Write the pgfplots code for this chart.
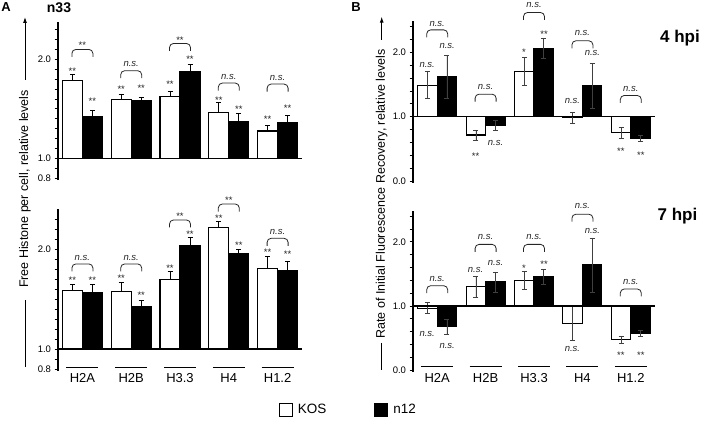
\documentclass[border=0pt]{standalone}
\usepackage{fontspec}
\setmainfont{Liberation Sans}
\usepackage{pgfplots}
\usepackage{pgfplotstable}
\pgfplotsset{compat=1.18}
\usetikzlibrary{arrows.meta}

% values as read (relative levels); error = half-length of error bar
\pgfplotstableread{
x kos kose n12 n12e
0 1.785 0.065 1.417 0.068
1 1.596 0.054 1.580 0.040
2 1.620 0.060 1.880 0.070
3 1.465 0.095 1.367 0.083
4 1.276 0.054 1.357 0.077
}\tabAtop
\pgfplotstableread{
x kos kose n12 n12e
0 1.585 0.065 1.570 0.080
1 1.580 0.090 1.425 0.065
2 1.695 0.085 2.036 0.084
3 2.220 0.060 1.953 0.047
4 1.805 0.120 1.785 0.095
}\tabAbot
\pgfplotstableread{
x kos kose n12 n12e
0 1.490 0.210 1.620 0.330
1 0.715 0.080 0.866 0.076
2 1.700 0.220 2.060 0.160
3 0.980 0.090 1.480 0.350
4 0.750 0.085 0.660 0.050
}\tabBtop
\pgfplotstableread{
x kos kose n12 n12e
0 0.965 0.085 0.680 0.120
1 1.300 0.157 1.374 0.156
2 1.400 0.140 1.456 0.114
3 0.730 0.260 1.640 0.420
4 0.480 0.055 0.575 0.040
}\tabBbot

\tikzset{
  brk/.style={line width=0.8pt, rounded corners=4pt, black!85},
  sig/.style={font=\fontsize{9.5}{10}\selectfont, text=black!85, inner sep=0pt, anchor=mid},
}
\newcommand{\brkline}[2]{\draw[brk] ([xshift=-10.5pt,yshift=-7.5pt]axis cs:#1,#2) -- ([xshift=-10.5pt]axis cs:#1,#2) -- ([xshift=10.5pt]axis cs:#1,#2) -- ([xshift=10.5pt,yshift=-7.5pt]axis cs:#1,#2);}
\newcommand{\brkn}[3]{\brkline{#1}{#2}\node[sig] at (axis cs:#1,#3) {\textit{n.s.}};}
\newcommand{\brks}[4]{\brkline{#1}{#2}\node[sig,yshift=-2.8pt] at (axis cs:#1,#3) {#4};}
\newcommand{\lbn}[3]{\node[sig,xshift=#2] at (axis cs:#1,#3) {\textit{n.s.}};}
\newcommand{\lbs}[4]{\node[sig,xshift=#2,yshift=-2.8pt] at (axis cs:#1,#3) {#4};}
\newcommand{\cat}[4]{\draw[line width=0.8pt] ([xshift=-16pt]axis cs:#1,#2) -- ([xshift=16pt]axis cs:#1,#2); \node[font=\fontsize{13}{15}\selectfont, inner sep=0pt] at (axis cs:#1,#3) {#4};}

\pgfplotsset{
  panel/.style={scale only axis, ybar=0pt, xmin=-0.5, xmax=4.5,
    axis x line=none, axis y line*=left, y axis line style={-, line width=1.1pt},
    tick align=outside, ytick pos=left, major tick length=3.5pt, minor tick length=3.5pt,
    tick style={black, line width=0.8pt},
    yticklabel style={font=\fontsize{9.5}{11}\selectfont},
    /pgf/number format/assume math mode=true, clip=false},
  panelA/.style={panel, width=244pt, bar width=20pt, ymin=-0.22,
    ytick={-0.2,0,1}, yticklabels={0.8,1.0,2.0},
    minor ytick={-0.1,0.1,0.2,0.3,0.4,0.5,0.6,0.7,0.8,0.9,1.1,1.2,1.3}},
  panelB/.style={panel, width=242pt, bar width=19.5pt, ymin=-1.03, ymax=1.48,
    ytick={-1,0,1}, yticklabels={0.0,1.0,2.0},
    minor ytick={-0.8,-0.6,-0.4,-0.2,0.2,0.4,0.6,0.8,1.2,1.4}},
  kosA/.style={draw=black, fill=white, line width=1.1pt,
    error bars/.cd, y dir=plus, y explicit,
    error bar style={line width=0.8pt, black},
    error mark options={rotate=90, mark size=2.5pt, line width=0.8pt, black}},
  n12A/.style={draw=black, fill=black, line width=1.1pt,
    error bars/.cd, y dir=plus, y explicit,
    error bar style={line width=0.8pt, black},
    error mark options={rotate=90, mark size=2.5pt, line width=0.8pt, black}},
  kosB/.style={draw=black, fill=white, line width=1.1pt,
    error bars/.cd, y dir=both, y explicit,
    error bar style={line width=0.6pt, black!75},
    error mark options={rotate=90, mark size=2.5pt, line width=0.6pt, black!75}},
  n12B/.style={draw=black, fill=black, line width=1.1pt,
    error bars/.cd, y dir=both, y explicit,
    error bar style={line width=0.6pt, black!75},
    error mark options={rotate=90, mark size=2.5pt, line width=0.6pt, black!75}},
}

\begin{document}
\begin{tikzpicture}
\useasboundingbox (0,0) rectangle (703pt,425pt);

% ---------------- Panel A, top (n33) ----------------
\begin{axis}[panelA, at={(58pt,244.9pt)}, anchor=south west, height=158.4pt, ymax=1.38]
\addplot[kosA] table[x=x, y expr=\thisrow{kos}-1, y error=kose] {\tabAtop};
\addplot[n12A] table[x=x, y expr=\thisrow{n12}-1, y error=n12e] {\tabAtop};
\draw[line width=1.6pt] (axis cs:-0.5,0) -- (axis cs:4.5,0);
\brks{0}{1.10}{1.16}{**}
\brkn{1}{0.885}{0.95}
\brks{2}{1.16}{1.21}{**}
\brkn{3}{0.76}{0.82}
\brkn{4}{0.75}{0.81}
\lbs{0}{-10pt}{0.902}{**} \lbs{0}{10pt}{0.60}{**}
\lbs{1}{-10pt}{0.717}{**} \lbs{1}{10pt}{0.73}{**}
\lbs{2}{-10pt}{0.774}{**} \lbs{2}{10pt}{1.02}{**}
\lbs{3}{-10pt}{0.605}{**} \lbs{3}{10pt}{0.52}{**}
\lbs{4}{-10pt}{0.42}{**}  \lbs{4}{10pt}{0.528}{**}
\end{axis}

% ---------------- Panel A, bottom ----------------
\begin{axis}[panelA, at={(58pt,54.1pt)}, anchor=south west, height=161.5pt, ymax=1.40,
  legend style={at={(1.19,-0.242)}, anchor=center, draw=none, fill=none,
    legend columns=2, font=\fontsize{13.5}{15}\selectfont,
    /tikz/every odd column/.append style={column sep=3pt},
    /tikz/every even column/.append style={column sep=46pt}},
  legend image code/.code={\draw[#1, line width=0.9pt] (0pt,-6.5pt) rectangle (13pt,6.5pt);}]
\addplot[kosA] table[x=x, y expr=\thisrow{kos}-1, y error=kose] {\tabAbot};
\addlegendentry{KOS}
\addplot[n12A] table[x=x, y expr=\thisrow{n12}-1, y error=n12e] {\tabAbot};
\addlegendentry{n12}
\draw[line width=1.6pt] (axis cs:-0.5,0) -- (axis cs:4.5,0);
\brkn{0}{0.853}{0.91}
\brkn{1}{0.853}{0.91}
\brks{2}{1.294}{1.351}{**}
\brks{3}{1.454}{1.51}{**}
\brkn{4}{1.11}{1.17}
\lbs{0}{-10pt}{0.709}{**} \lbs{0}{10pt}{0.709}{**}
\lbs{1}{-10pt}{0.732}{**} \lbs{1}{10pt}{0.565}{**}
\lbs{2}{-10pt}{0.83}{**}  \lbs{2}{10pt}{1.17}{**}
\lbs{3}{-10pt}{1.334}{**} \lbs{3}{10pt}{1.06}{**}
\lbs{4}{-10pt}{0.993}{**} \lbs{4}{10pt}{0.976}{**}
\cat{0}{-0.184}{-0.291}{H2A}
\cat{1}{-0.184}{-0.291}{H2B}
\cat{2}{-0.184}{-0.291}{H3.3}
\cat{3}{-0.184}{-0.291}{H4}
\cat{4}{-0.184}{-0.291}{H1.2}
\end{axis}

% ---------------- Panel B, top (4 hpi) ----------------
\begin{axis}[panelB, at={(413pt,242.1pt)}, anchor=south west, height=161.4pt]
\addplot[kosB] table[x=x, y expr=\thisrow{kos}-1, y error=kose] {\tabBtop};
\addplot[n12B] table[x=x, y expr=\thisrow{n12}-1, y error=n12e] {\tabBtop};
\draw[line width=1.6pt] (axis cs:-0.5,0) -- (axis cs:4.5,0);
\brkn{0}{1.35}{1.45}
\brkn{1}{0.35}{0.46}
\brkn{2}{1.62}{1.74}
\brkn{3}{1.18}{1.30}
\brkn{4}{0.33}{0.43}
\lbn{0}{-10pt}{0.80}      \lbn{0}{10pt}{1.10}
\lbs{1}{-10pt}{-0.58}{**} \lbn{1}{10pt}{-0.40}
\lbs{2}{-10pt}{1.03}{*}   \lbs{2}{10pt}{1.32}{**}
\lbn{3}{-10pt}{0.25}      \lbn{3}{10pt}{1.00}
\lbs{4}{-10pt}{-0.51}{**} \lbs{4}{10pt}{-0.56}{**}
\end{axis}

% ---------------- Panel B, bottom (7 hpi) ----------------
\begin{axis}[panelB, at={(413pt,52.9pt)}, anchor=south west, height=161.1pt]
\addplot[kosB] table[x=x, y expr=\thisrow{kos}-1, y error=kose] {\tabBbot};
\addplot[n12B] table[x=x, y expr=\thisrow{n12}-1, y error=n12e] {\tabBbot};
\draw[line width=1.6pt] (axis cs:-0.5,0) -- (axis cs:4.5,0);
\brkn{0}{0.316}{0.42}
\brkn{1}{0.96}{1.08}
\brkn{2}{0.96}{1.08}
\brkn{3}{1.43}{1.56}
\brkn{4}{0.265}{0.38}
\lbn{0}{-10pt}{-0.436}     \lbn{0}{10pt}{-0.623}
\lbn{1}{-10pt}{0.57}       \lbn{1}{10pt}{0.674}
\lbs{2}{-10pt}{0.623}{*}   \lbs{2}{10pt}{0.69}{**}
\lbn{3}{-10pt}{-0.67}      \lbn{3}{10pt}{1.168}
\lbs{4}{-10pt}{-0.737}{**} \lbs{4}{10pt}{-0.737}{**}
\cat{0}{-0.945}{-1.117}{H2A}
\cat{1}{-0.945}{-1.117}{H2B}
\cat{2}{-0.945}{-1.117}{H3.3}
\cat{3}{-0.945}{-1.117}{H4}
\cat{4}{-0.945}{-1.117}{H1.2}
\end{axis}

% ---------------- titles and axis labels ----------------
\node[font=\bfseries\fontsize{13}{15}\selectfont] at (6pt,418pt) {A};
\node[font=\bfseries\fontsize{14}{16}\selectfont] at (59pt,417pt) {n33};
\node[font=\bfseries\fontsize{13}{15}\selectfont] at (356pt,418pt) {B};
\node[font=\bfseries\fontsize{17}{19}\selectfont] at (680pt,387pt) {4 hpi};
\node[font=\bfseries\fontsize{17}{19}\selectfont] at (677.5pt,209pt) {7 hpi};

\node[rotate=90, font=\fontsize{12.5}{14}\selectfont] at (25pt,236pt) {Free Histone per cell, relative levels};
\draw[line width=0.9pt, -{Latex[length=6pt,width=4pt]}] (25pt,345pt) -- (25pt,408pt);
\draw[line width=0.9pt] (25pt,125pt) -- (25pt,58pt);

\node[rotate=90, font=\fontsize{12.5}{14}\selectfont] at (381.7pt,231pt) {Rate of Initial Fluorescence Recovery, relative levels};
\draw[line width=0.9pt, -{Latex[length=6pt,width=4pt]}] (381.7pt,385pt) -- (381.7pt,408.3pt);
\draw[line width=0.9pt] (381.7pt,82pt) -- (381.7pt,55pt);
\end{tikzpicture}
\end{document}
